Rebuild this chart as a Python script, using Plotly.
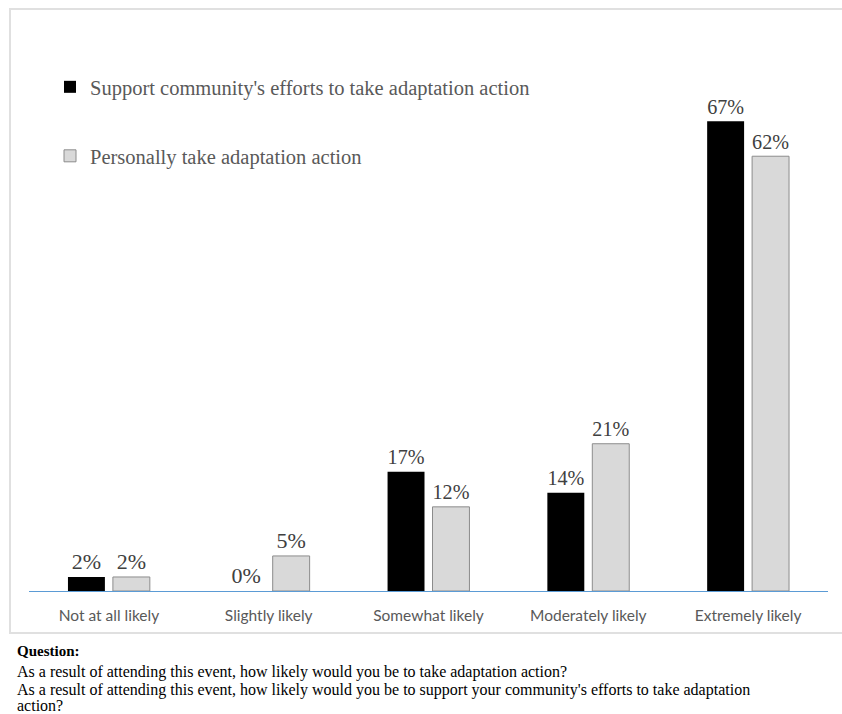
import plotly.graph_objects as go

categories = ["Not at all likely", "Slightly likely", "Somewhat likely", "Moderately likely", "Extremely likely"]
support_community = [2, 0, 17, 14, 67]
personally_take = [2, 5, 12, 21, 62]
series_names = ["Support community's efforts to take adaptation action", "Personally take adaptation action"]
footer_lines = [
    "<b>Question:</b>",
    "As a result of attending this event, how likely would you be to take adaptation action?",
    "As a result of attending this event, how likely would you be to support your community's efforts to take adaptation",
    "action?",
]

W, H = 842, 714
L, R, T, B = 29, 14, 30, 123
ph = H - T - B
pw = W - L - R

def py(ypix):
    return (H - B - ypix) / ph

def px(xpix):
    return (xpix - L) / pw

serif = "Liberation Serif, Times New Roman, serif"

fig = go.Figure()
fig.add_trace(go.Bar(
    x=categories, y=support_community, name=series_names[0],
    marker=dict(color="#000000", line=dict(width=0)),
    text=[f"{v}%" for v in support_community], textposition="outside",
    textfont=dict(family=serif, size=22, color="#404040"),
    cliponaxis=False, legend="legend", showlegend=True,
))
fig.add_trace(go.Bar(
    x=categories, y=personally_take, name=series_names[1],
    marker=dict(color="#D9D9D9", line=dict(width=1, color="#8C8C8C")),
    text=[f"{v}%" for v in personally_take], textposition="outside",
    textfont=dict(family=serif, size=22, color="#404040"),
    cliponaxis=False, legend="legend2", showlegend=True,
))

annotations = []
ys = [651, 672, 690, 705]
sizes = [15, 16, 16, 16]
for line, yp, fs in zip(footer_lines, ys, sizes):
    annotations.append(dict(
        text=line, xref="paper", yref="paper", x=px(15), y=py(yp),
        xanchor="left", yanchor="middle", showarrow=False,
        font=dict(family=serif, size=fs, color="#000000"),
    ))

legend_common = dict(
    xanchor="left", yanchor="middle",
    font=dict(family=serif, size=20.5, color="#595959"),
    bgcolor="rgba(0,0,0,0)", itemwidth=30,
)

fig.update_layout(
    width=W, height=H,
    margin=dict(l=L, r=R, t=T, b=B),
    paper_bgcolor="white", plot_bgcolor="white",
    barmode="group", bargap=0.4375, bargroupgap=0.178,
    showlegend=True,
    xaxis=dict(
        showline=True, linecolor="#5B9BD5", linewidth=1.2,
        showgrid=False, ticks="", ticklabelstandoff=10,
        tickfont=dict(family="Lato, Open Sans, sans-serif", size=15.5, color="#595959"),
    ),
    yaxis=dict(range=[0, 80], visible=False, showgrid=False, zeroline=False),
    legend=dict(x=px(50), y=py(87), **legend_common),
    legend2=dict(x=px(50), y=py(156), **legend_common),
    shapes=[dict(
        type="rect", xref="paper", yref="paper",
        x0=px(10), x1=px(860), y0=py(633), y1=py(9),
        line=dict(color="#E0E0E0", width=2), fillcolor="rgba(0,0,0,0)", layer="below",
    )],
    annotations=annotations,
)

fig.write_html("out.html")
